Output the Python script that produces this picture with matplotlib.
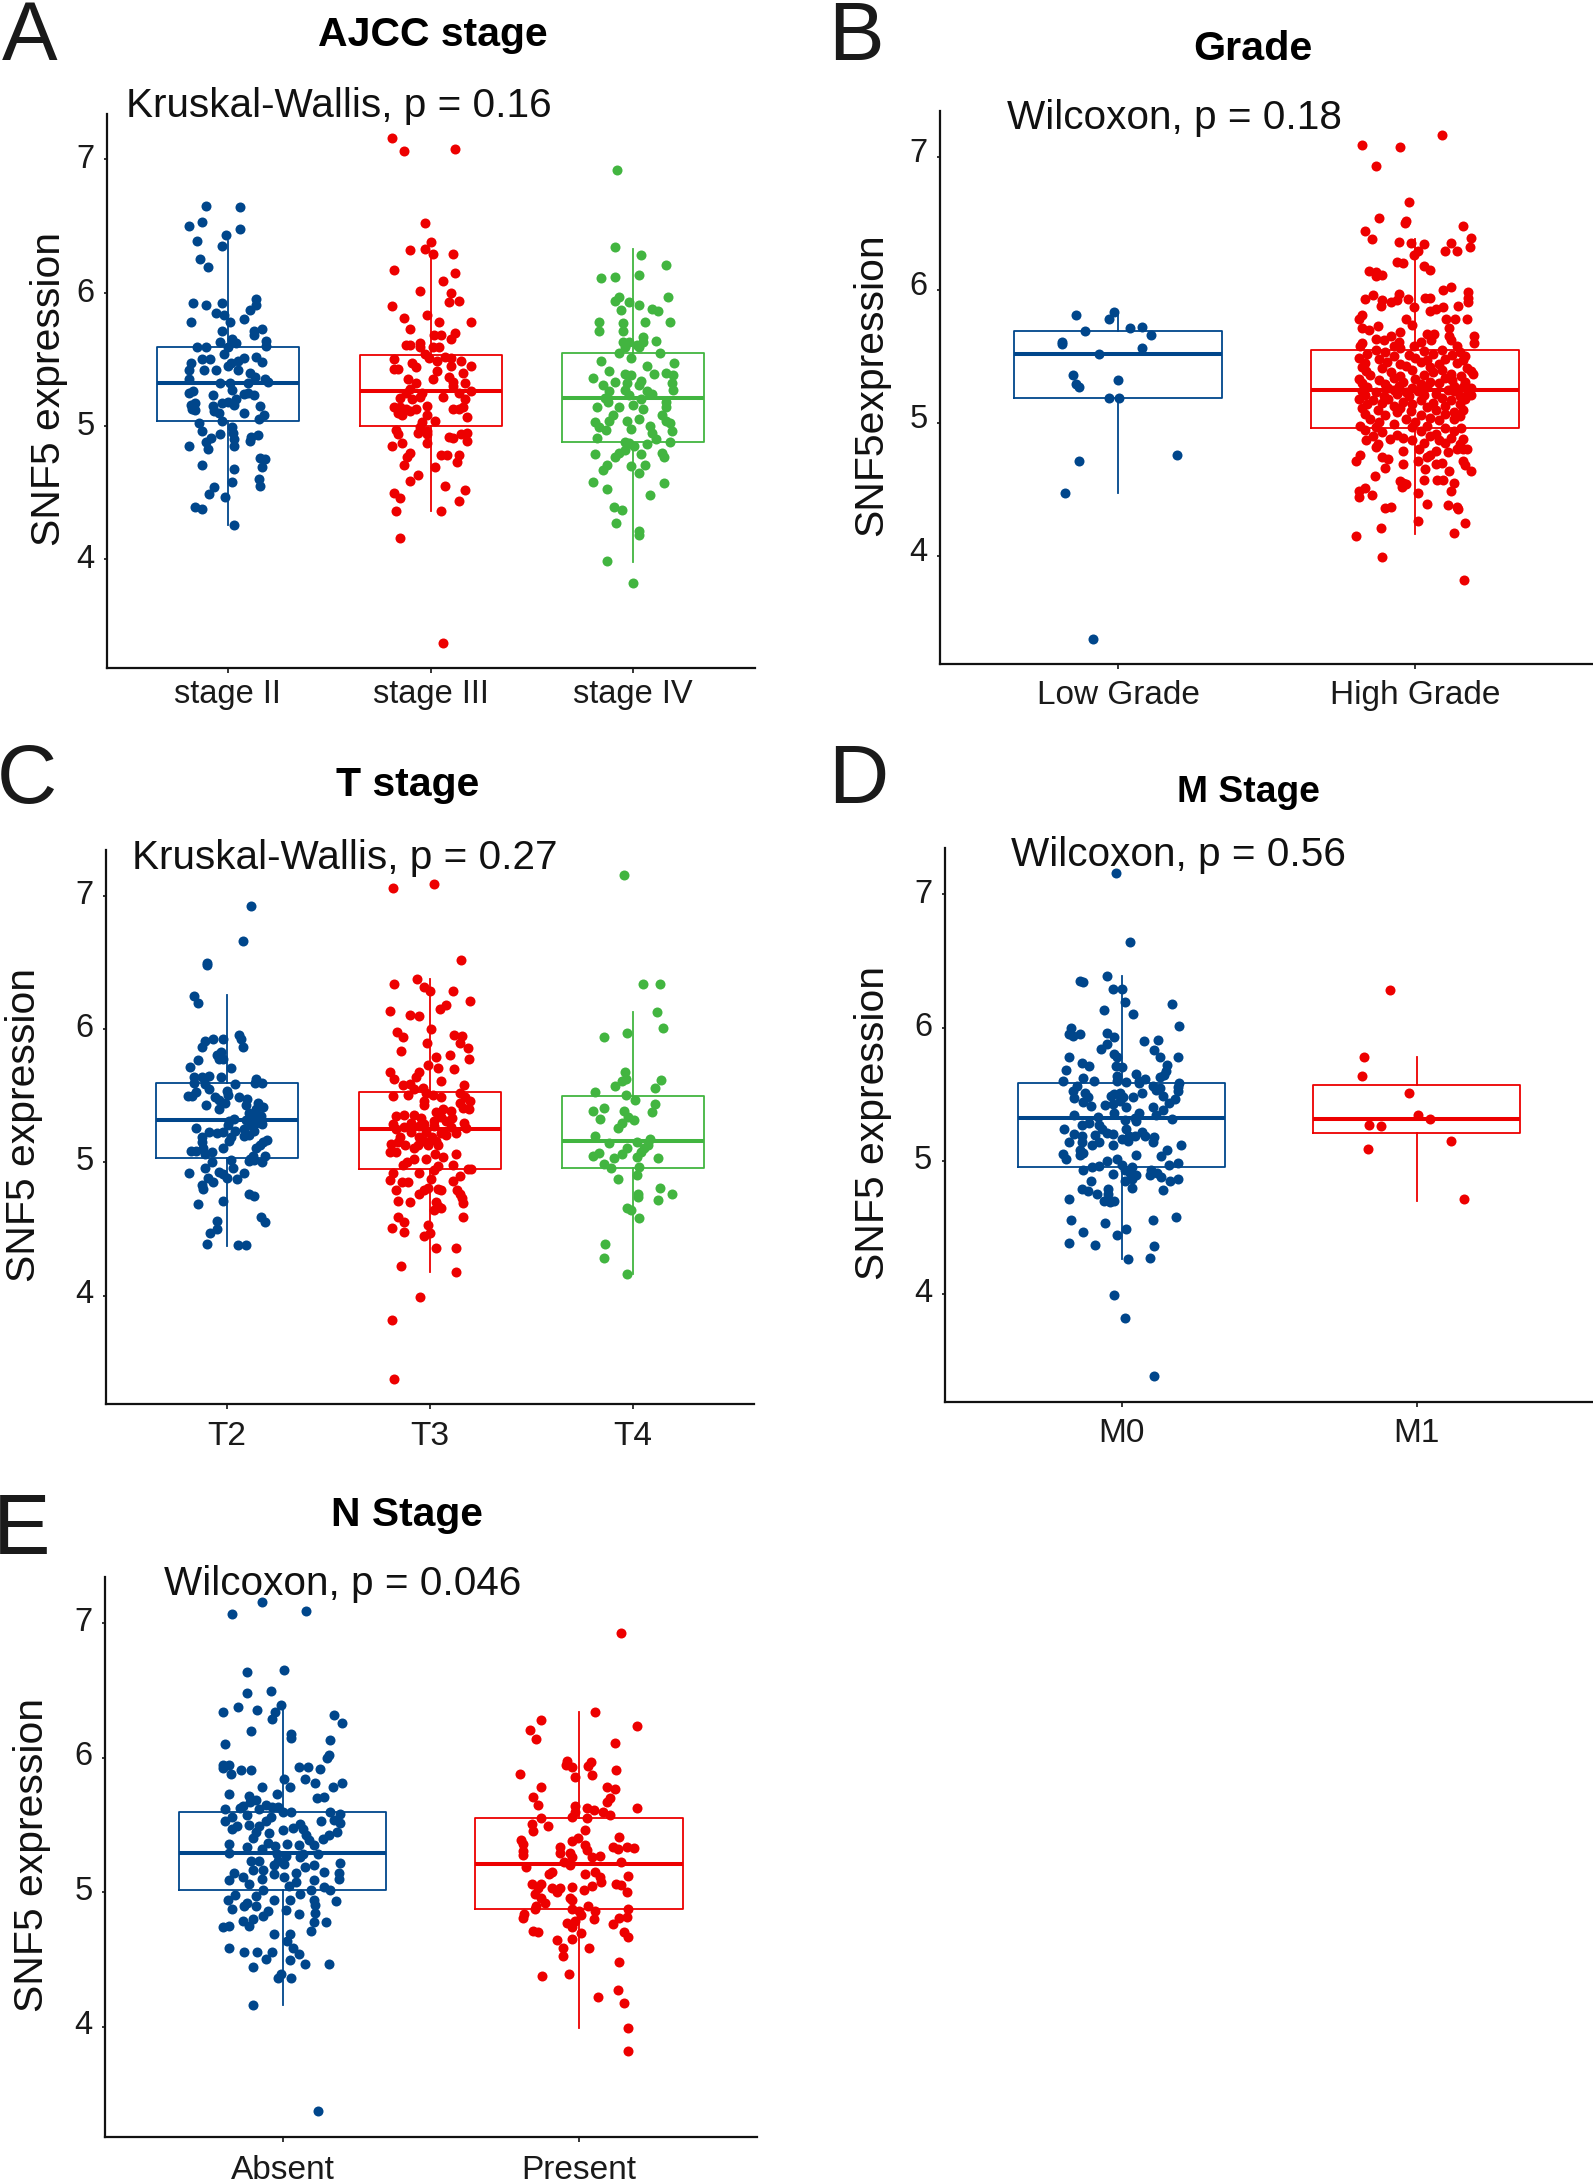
import matplotlib
matplotlib.use("Agg")
import matplotlib.pyplot as plt
from matplotlib.transforms import ScaledTranslation

plt.rcParams['font.family'] = ['Liberation Sans', 'DejaVu Sans']

W, H = 1593, 2184
BLUE, RED, GREEN = '#00468B', '#ED0000', '#42B540'

# Each point: (horizontal jitter in category units, SNF5 expression)
a_stage2 = [(-.11,6.65),(.06,6.64),(-.19,6.50),(-.13,6.53),(.06,6.48),(-.01,6.43),(-.15,6.39),(-.03,6.35),(-.14,6.25),(-.10,6.19),(.14,5.95),(.14,5.91),(.11,5.87),(-.17,5.92),(-.11,5.91),(-.03,5.92),(-.06,5.85),(-.02,5.83),(.08,5.80),(.01,5.78),(-.18,5.78),(-.03,5.71),(.13,5.71),(.17,5.73),(.13,5.68),(.19,5.64),(.19,5.60),(-.15,5.59),(-.11,5.59),(-.04,5.63),(.02,5.65),(.04,5.62),(0,5.59),(-.02,5.54),(-.18,5.47),(-.19,5.42),(-.13,5.50),(-.09,5.50),(-.12,5.42),(-.06,5.42),(0,5.45),(.015,5.47),(.05,5.49),(.08,5.51),(.14,5.52),(.17,5.48),(.11,5.40),(.05,5.42),(.135,5.37),(.185,5.35),(.2,5.33),(-.19,5.35),(-.04,5.32),(.01,5.32),(.1,5.32),(.02,5.27),(-.19,5.25),(-.17,5.26),(-.075,5.23),(.08,5.24),(.13,5.23),(.10,5.245),(.04,5.20),(0,5.18),(-.03,5.17),(-.075,5.15),(-.18,5.16),(-.16,5.17),(.16,5.15),(-.175,5.13),(-.16,5.12),(-.07,5.11),(-.045,5.10),(.08,5.10),(.03,5.16),(.18,5.08),(.155,5.05),(-.03,5.04),(-.145,5.02),(.02,4.99),(.025,4.95),(-.13,4.96),(-.04,4.94),(.15,4.93),(.115,4.92),(.11,4.89),(-.085,4.91),(-.11,4.88),(.03,4.90),(-.19,4.85),(-.10,4.83),(.03,4.85),(.16,4.76),(.185,4.75),(.17,4.69),(-.13,4.71),(.03,4.68),(.155,4.60),(.02,4.58),(.16,4.55),(-.07,4.54),(-.095,4.49),(-.015,4.47),(-.16,4.39),(-.13,4.38),(.03,4.26)]
a_stage3 = [(-.19,7.16),(-.13,7.06),(.12,7.08),(-.03,6.52),(0,6.38),(-.03,6.33),(-.10,6.32),(.01,6.29),(.11,6.29),(-.18,6.17),(.12,6.15),(.06,6.09),(-.05,6.01),(.10,6.0),(.09,5.93),(.14,5.94),(-.19,5.9),(-.02,5.83),(-.13,5.81),(.2,5.78),(.04,5.78),(-.10,5.73),(.015,5.68),(.05,5.68),(.12,5.70),(.10,5.65),(-.05,5.62),(-.12,5.61),(-.10,5.61),(.01,5.59),(.04,5.59),(-.05,5.59),(-.03,5.54),(-.01,5.51),(.07,5.52),(.10,5.51),(-.18,5.50),(-.09,5.47),(.03,5.49),(.15,5.49),(.2,5.45),(.10,5.45),(-.18,5.43),(-.16,5.43),(-.07,5.44),(.03,5.41),(.16,5.40),(.01,5.35),(.09,5.37),(-.11,5.35),(-.07,5.32),(.11,5.33),(.17,5.32),(.11,5.30),(.2,5.26),(-.1,5.28),(-.12,5.25),(-.04,5.25),(.06,5.22),(.14,5.25),(-.15,5.21),(-.09,5.20),(-.05,5.22),(.17,5.20),(-.18,5.14),(-.15,5.14),(-.12,5.13),(-.02,5.15),(.16,5.14),(.11,5.13),(-.16,5.10),(-.10,5.11),(-.07,5.13),(.14,5.13),(-.14,5.08),(-.02,5.08),(.18,5.07),(.02,5.04),(-.04,5.03),(-.05,4.99),(-.02,4.96),(-.17,4.97),(-.16,4.94),(-.06,4.95),(-.02,4.94),(.09,4.92),(.11,4.91),(.15,4.94),(.18,4.95),(.18,4.89),(-.02,4.87),(-.19,4.85),(-.14,4.87),(-.10,4.80),(-.115,4.77),(-.13,4.71),(.05,4.78),(.08,4.78),(.14,4.78),(.13,4.73),(.02,4.69),(-.06,4.63),(-.10,4.59),(.07,4.55),(.17,4.52),(-.18,4.50),(-.15,4.46),(.14,4.44),(-.17,4.36),(.05,4.36),(-.15,4.16),(.06,3.37)]
a_stage4 = [(-.08,6.92),(-.09,6.34),(.04,6.28),(.16,6.21),(-.16,6.11),(-.09,6.12),(.03,6.13),(.17,5.97),(-.07,5.97),(-.09,5.94),(-.02,5.93),(.03,5.91),(-.06,5.87),(.09,5.88),(.12,5.86),(-.17,5.78),(-.05,5.77),(.06,5.78),(.18,5.78),(-.17,5.71),(-.05,5.71),(.05,5.67),(.11,5.64),(-.05,5.63),(-.02,5.63),(.02,5.61),(.05,5.63),(-.04,5.59),(.03,5.59),(-.07,5.55),(.13,5.55),(-.01,5.51),(-.16,5.49),(.2,5.47),(.07,5.45),(-.12,5.41),(.16,5.40),(.10,5.39),(-.2,5.36),(-.04,5.39),(-.01,5.38),(.195,5.38),(-.09,5.33),(.04,5.34),(.19,5.32),(-.15,5.31),(-.03,5.32),(.03,5.31),(.195,5.27),(-.12,5.26),(-.04,5.27),(.07,5.26),(.09,5.24),(-.02,5.23),(-.14,5.21),(-.125,5.18),(.04,5.20),(.16,5.18),(-.07,5.14),(0,5.155),(.05,5.13),(.16,5.145),(-.18,5.14),(.14,5.08),(-.1,5.08),(-.12,5.04),(-.03,5.04),(.03,5.05),(-.19,5.03),(.16,5.04),(.18,5.02),(-.17,4.99),(-.135,4.97),(-.01,4.98),(.08,5.0),(.19,4.965),(.09,4.95),(-.18,4.91),(.11,4.90),(.18,4.88),(-.04,4.88),(-.02,4.87),(.005,4.85),(.07,4.865),(-.04,4.82),(-.07,4.80),(.04,4.79),(.14,4.80),(.15,4.77),(-.19,4.79),(-.09,4.77),(-.13,4.71),(-.15,4.67),(-.01,4.70),(.06,4.71),(.03,4.645),(-.2,4.58),(.15,4.575),(-.13,4.53),(.08,4.48),(-.095,4.39),(-.055,4.37),(-.085,4.27),(.03,4.21),(.03,4.18),(-.13,3.99),(0,3.82)]

b_low = [(-.14,5.81),(-.015,5.83),(-.03,5.78),(.04,5.71),(.08,5.72),(-.11,5.69),(.11,5.66),(-.19,5.61),(-.19,5.59),(.08,5.56),(-.065,5.52),(-.15,5.36),(0,5.32),(-.14,5.29),(-.13,5.27),(-.03,5.19),(.005,5.19),(.2,4.755),(-.13,4.71),(-.18,4.47),(-.085,3.38)]
b_high = [(.09,7.16),(-.18,7.09),(-.05,7.07),(-.13,6.93),(-.02,6.66),(-.12,6.54),(-.03,6.52),(-.035,6.5),(.16,6.48),(-.17,6.44),(.19,6.39),(-.145,6.38),(-.055,6.36),(-.015,6.35),(.03,6.34),(.12,6.35),(.185,6.32),(.1,6.29),(.14,6.29),(.01,6.29),(-.005,6.26),(-.06,6.21),(-.04,6.2),(.03,6.18),(.05,6.15),(-.155,6.14),(-.13,6.13),(-.11,6.11),(-.13,6.1),(.095,6.0),(.12,6.02),(.18,5.98),(.18,5.94),(-.055,5.97),(-.14,5.96),(-.17,5.93),(-.11,5.92),(-.08,5.91),(-.06,5.92),(-.025,5.93),(.035,5.94),(.05,5.94),(.18,5.91),(-.115,5.88),(-.005,5.87),(.145,5.88),(.095,5.87),(.07,5.855),(.05,5.84),(-.18,5.81),(-.19,5.78),(-.03,5.78),(.105,5.78),(.135,5.78),(.175,5.78),(-.125,5.73),(-.01,5.735),(-.18,5.71),(-.155,5.7),(.115,5.71),(-.05,5.68),(.04,5.67),(.065,5.67),(.2,5.655),(-.08,5.65),(.115,5.65),(-.13,5.63),(-.105,5.62),(.055,5.62),(.12,5.62),(-.18,5.6),(.2,5.6),(-.055,5.61),(.02,5.61),(-.185,5.58),(.14,5.58),(-.07,5.58),(-.005,5.58),
(-.13,5.55),(-.05,5.56),(.03,5.54),(.09,5.55),(.15,5.53),(-.16,5.52),(-.1,5.53),(-.02,5.51),(.06,5.52),(.125,5.51),(.17,5.50),(-.19,5.49),(-.12,5.48),(-.07,5.50),(.0,5.49),(.04,5.47),(.1,5.48),(.16,5.47),(-.17,5.45),(-.095,5.46),(-.05,5.44),(.02,5.46),(.08,5.44),(.14,5.45),(-.18,5.42),(-.11,5.41),(-.03,5.43),(.05,5.42),(.09,5.40),(.175,5.41),(-.165,5.39),(-.08,5.38),(-.01,5.40),(.06,5.38),(.12,5.37),(.19,5.39),(-.15,5.36),(-.05,5.35),(.03,5.36),(.1,5.34),(.155,5.35),(.195,5.37),(-.19,5.33),(-.12,5.32),(-.07,5.34),(0,5.33),(.05,5.31),(.125,5.32),(.17,5.31),(-.18,5.30),(-.1,5.29),(-.04,5.31),(.02,5.29),(.08,5.30),(.13,5.28),(.16,5.27),(-.16,5.27),(-.09,5.26),(-.055,5.28),(-.01,5.26),(.04,5.27),(.11,5.25),(.19,5.26),(-.18,5.24),(-.13,5.23),(-.07,5.25),(-.03,5.23),(.01,5.24),(.07,5.22),(.13,5.24),(.18,5.23),(-.17,5.21),(-.105,5.2),(-.06,5.22),(-.02,5.2),(.03,5.21),(.09,5.19),(.15,5.2),(.19,5.21),(-.19,5.18),(-.14,5.17),(-.09,5.18),(-.04,5.16),(.02,5.17),(.06,5.15),(.12,5.17),(.17,5.18),(-.16,5.14),(-.11,5.15),(-.07,5.13),(-.01,5.14),(.04,5.12),(.1,5.13),(.15,5.14),(-.18,5.11),(-.125,5.1),(-.05,5.11),(-.015,5.09),(.07,5.1),(.13,5.08),(.16,5.1),(-.17,5.07),(-.1,5.06),(-.06,5.08),(.02,5.06),(.05,5.04),(.1,5.07),(.15,5.05),(-.15,5.03),(-.12,5.01),(-.03,5.03),(.0,5.01),(.08,5.02),(.13,5.03),(-.185,4.98),(-.13,4.97),(-.07,4.99),(-.01,4.97),(.04,4.98),(.1,4.96),(.155,4.96),(-.17,4.95),(-.11,4.93),(-.06,4.91),(.02,4.94),(.07,4.92),(.13,4.94),(-.14,4.9),(-.04,4.89),(-.01,4.87),(.05,4.9),(.08,4.87),(.12,4.89),(.16,4.88),(-.165,4.87),(-.125,4.84),(-.085,4.88),(.03,4.85),(.1,4.85),(.15,4.84),(.175,4.8),(-.13,4.82),(-.04,4.79),(.015,4.8),(.05,4.76),(.07,4.79),(.11,4.78),(.14,4.8),(.16,4.8),(-.185,4.76),(-.2,4.71),(-.11,4.74),(-.09,4.73),(-.04,4.69),(.01,4.71),(.04,4.74),(.07,4.69),(.09,4.7),(.16,4.71),(.19,4.64),(.17,4.68),(-.1,4.66),(.035,4.65),(.115,4.64),(-.135,4.6),(.03,4.57),(.075,4.57),(.095,4.57),(.13,4.55),(-.04,4.55),(-.05,4.56),(-.03,4.54),(-.045,4.52),(-.19,4.49),(-.17,4.51),(.12,4.49),(.01,4.47),(-.145,4.46),(-.19,4.44),(.04,4.39),(-.1,4.36),(-.08,4.37),(.11,4.38),(.14,4.37),(.145,4.35),(.01,4.26),(.17,4.25),(-.115,4.21),(-.2,4.15),(.13,4.17),(-.11,3.99),(.165,3.82)]

c_t2 = [(.12,6.93),(.08,6.66),(-.10,6.5),(-.10,6.48),(-.16,6.25),(-.14,6.2),(.06,5.96),(.07,5.93),(-.02,5.93),(-.07,5.93),(-.11,5.91),(-.125,5.87),(.08,5.87),(-.03,5.83),(-.05,5.81),(-.04,5.78),(-.02,5.78),(-.14,5.77),(-.18,5.72),(.02,5.71),(-.16,5.64),(-.125,5.64),(-.09,5.65),(-.03,5.645),(-.16,5.6),(-.11,5.59),(.04,5.59),(.145,5.63),(.14,5.6),(.175,5.6),(-.09,5.55),(-.15,5.53),(0,5.54),(-.19,5.5),(-.17,5.5),(-.06,5.49),(-.04,5.47),(.005,5.51),(.06,5.49),(.1,5.48),(-.01,5.45),(-.04,5.40),(-.105,5.43),(.095,5.43),(.155,5.445),(.18,5.42),(.145,5.4),(.11,5.37),(.135,5.35),(.17,5.35),(.095,5.32),(.035,5.325),(.01,5.31),(.145,5.3),(.175,5.29),(-.15,5.26),(.005,5.28),(.12,5.28),(.085,5.255),(-.09,5.23),(-.05,5.225),(-.02,5.23),(.04,5.24),(.135,5.24),(-.125,5.19),(.02,5.19),(.085,5.2),(.11,5.21),(.2,5.17),(-.125,5.155),(.18,5.15),(.01,5.16),(.165,5.13),(-.12,5.11),(-.02,5.11),(.145,5.11),(-.175,5.085),(-.15,5.085),(-.075,5.08),(-.11,5.06),(.19,5.05),(.13,5.05),(.115,5.025),(.02,5.02),(-.075,5.0),(.11,5.01),(.135,5.015),(.175,5.0),(.03,4.955),(-.11,4.955),(-.185,4.92),(-.04,4.93),(.085,4.92),(-.02,4.91),(0,4.885),(.05,4.875),(-.095,4.885),(-.07,4.85),(-.125,4.83),(-.12,4.8),(.11,4.765),(.135,4.75),(-.02,4.71),(-.14,4.69),(.17,4.59),(.19,4.55),(-.05,4.56),(-.05,4.5),(-.085,4.47),(-.10,4.39),(.055,4.38),(.095,4.38)]
c_t3 = [(-.18,7.06),(.02,7.09),(.155,6.52),(-.065,6.38),(-.175,6.34),(-.03,6.32),(0,6.29),(.115,6.29),(.2,6.21),(.08,6.18),(.05,6.155),(-.195,6.14),(-.1,6.11),(-.055,6.1),(.005,6.0),(-.16,5.98),(-.13,5.94),(.12,5.955),(.16,5.95),(-.015,5.9),(.15,5.9),(.19,5.86),(-.14,5.84),(.1,5.81),(.03,5.79),(.195,5.78),(-.01,5.73),(.04,5.71),(.12,5.7),(-.195,5.68),(-.055,5.68),(-.07,5.645),(-.175,5.63),(.055,5.61),(-.1,5.59),(-.13,5.58),(.17,5.585),(-.035,5.56),(-.08,5.55),(-.02,5.52),(.15,5.525),(-.18,5.5),(-.105,5.51),(.015,5.51),(.055,5.49),(.175,5.49),(-.03,5.46),(.2,5.46),(.15,5.45),(-.03,5.43),(.165,5.41),(.195,5.4),(.065,5.4),(.105,5.385),(.03,5.38),(-.165,5.35),(-.125,5.36),(-.08,5.36),(-.045,5.335),(.055,5.34),(.11,5.335),(.02,5.315),(.08,5.31),(-.18,5.29),(-.095,5.3),(-.03,5.29),(.17,5.3),(-.125,5.265),(-.055,5.275),(.02,5.275),(.105,5.265),(.18,5.26),(-.165,5.25),(-.02,5.23),(-.095,5.23),(.055,5.22),(.13,5.22),(-.145,5.195),(-.055,5.195),(.01,5.195),(.08,5.205),(-.03,5.16),(.03,5.16),(-.155,5.15),(-.19,5.14),(-.12,5.13),(-.06,5.13),(-.01,5.13),(.04,5.13),(-.195,5.08),(-.165,5.08),(-.08,5.105),(.13,5.065),(.025,5.06),(-.02,5.025),(-.08,5.025),(-.11,5.005),(.065,5.04),(-.13,4.98),(.115,4.98),(.04,4.97),(.02,4.945),(.19,4.95),(.205,4.95),(-.18,4.92),(-.055,4.92),(.15,4.9),(-.195,4.87),(-.135,4.85),(-.105,4.85),(.005,4.875),(.115,4.86),(-.165,4.79),(-.01,4.81),(.04,4.8),(-.03,4.79),(.055,4.79),(.135,4.79),(-.055,4.765),(.15,4.765),(.16,4.73),(.165,4.695),(-.155,4.71),(-.1,4.7),(.03,4.705),(.04,4.67),(.02,4.645),(.055,4.66),(-.155,4.59),(-.125,4.555),(.165,4.59),(-.01,4.53),(-.185,4.51),(-.125,4.48),(-.03,4.445),(0,4.47),(.03,4.36),(.13,4.36),(-.14,4.22),(.13,4.18),(-.05,3.99),(-.185,3.82),(-.175,3.375)]
c_t4 = [(-.045,7.16),(.05,6.34),(.135,6.34),(.12,6.13),(.15,6.01),(-.03,5.97),(-.14,5.94),(-.04,5.68),(-.035,5.63),(.14,5.62),(-.055,5.61),(-.085,5.575),(.11,5.56),(-.185,5.53),(-.035,5.51),(.01,5.47),(.11,5.44),(-.14,5.41),(-.195,5.39),(-.045,5.39),(.095,5.38),(-.025,5.345),(-.16,5.325),(.005,5.32),(-.055,5.3),(-.07,5.26),(-.185,5.2),(.085,5.18),(.02,5.15),(-.115,5.145),(.075,5.13),(-.03,5.105),(.055,5.105),(.04,5.075),(-.165,5.07),(-.195,5.05),(-.055,5.06),(-.09,5.035),(.02,5.04),(.125,5.03),(-.14,4.985),(-.105,4.955),(.03,4.965),(.02,4.905),(-.07,4.875),(.135,4.805),(.195,4.765),(.025,4.765),(.025,4.74),(.125,4.72),(-.03,4.655),(-.01,4.64),(.03,4.58),(-.135,4.39),(-.14,4.28),(-.03,4.16)]

d_m0 = [(-.02,7.16),(.03,6.64),(-.05,6.39),(-.14,6.35),(-.13,6.34),(-.03,6.29),(0,6.29),(.17,6.18),(.01,6.19),(-.06,6.13),(.04,6.1),(.195,6.01),(-.17,6.0),(-.18,5.95),(-.165,5.94),(-.14,5.95),(-.05,5.96),(-.025,5.93),(.075,5.9),(.125,5.91),(-.05,5.875),(-.07,5.84),(.11,5.83),(-.025,5.8),(-.015,5.775),(-.18,5.78),(.13,5.78),(.19,5.78),(-.135,5.73),(-.11,5.71),(.155,5.72),(-.02,5.71),(0,5.7),(-.19,5.68),(.15,5.67),(.145,5.64),(.05,5.65),(-.015,5.635),(-.13,5.62),(.13,5.625),(.08,5.615),(.06,5.6),(-.2,5.6),(-.095,5.6),(-.015,5.595),(.015,5.59),(.06,5.58),(.195,5.58),(-.15,5.56),(.105,5.56),(.13,5.545),(.19,5.55),(-.165,5.52),(.07,5.51),(.115,5.53),(-.125,5.51),(.19,5.525),(-.025,5.5),(-.005,5.51),(-.115,5.48),(-.16,5.47),(.04,5.48),(.14,5.485),(-.035,5.485),(.005,5.475),(.18,5.465),(.16,5.435),(-.13,5.44),(-.005,5.45),(.105,5.405),(-.055,5.42),(-.03,5.425),(-.105,5.41),(.015,5.4),(.14,5.38),(-.025,5.36),(.06,5.355),(-.16,5.345),(.115,5.345),(-.08,5.33),(.045,5.32),(.17,5.315),(.01,5.305),(.05,5.295),(-.11,5.285),(-.135,5.27),(-.075,5.27),(-.195,5.24),(-.065,5.235),(.015,5.235),(-.16,5.2),(-.05,5.205),(.07,5.215),(-.09,5.19),(-.03,5.2),(-.135,5.185),(.025,5.185),(.045,5.185),(.11,5.175),(0,5.165),(.08,5.185),(-.18,5.14),(-.135,5.14),(-.075,5.14),(.02,5.15),(.105,5.14),(-.03,5.115),(-.1,5.115),(.2,5.12),(-.14,5.08),(-.13,5.06),(.155,5.08),(-.2,5.05),(.05,5.045),(-.14,5.045),(.135,5.035),(-.19,5.015),(-.015,5.015),(-.05,5.0),(.19,4.985),(0,4.97),(-.075,4.96),(.16,4.965),(-.1,4.95),(.035,4.95),(-.13,4.93),(.01,4.93),(.1,4.93),(-.03,4.9),(.03,4.91),(.12,4.91),(.095,4.895),(.05,4.89),(.01,4.85),(.135,4.875),(.19,4.865),(.165,4.85),(.035,4.86),(-.105,4.845),(.035,4.795),(-.045,4.785),(-.135,4.785),(-.115,4.77),(.14,4.78),(-.085,4.75),(-.045,4.75),(-.18,4.71),(-.06,4.7),(-.04,4.69),(-.025,4.695),(-.17,4.555),(.185,4.58),(.105,4.555),(-.055,4.53),(.015,4.49),(-.13,4.465),(-.015,4.44),(-.18,4.38),(-.09,4.37),(.11,4.36),(.095,4.27),(.02,4.26),(-.025,3.99),(.01,3.82),(.11,3.38)]
d_m1 = [(-.09,6.28),(-.18,5.78),(-.185,5.635),(-.025,5.51),(.005,5.34),(.045,5.31),(-.16,5.27),(-.12,5.26),(.115,5.15),(-.165,5.085),(.16,4.71)]

e_absent = [(-.07,7.16),(-.17,7.07),(.08,7.09),(-.12,6.64),(.005,6.655),(-.04,6.5),(-.12,6.48),(-.005,6.39),(-.15,6.38),(-.2,6.34),(-.085,6.355),(-.025,6.34),(-.035,6.29),(.175,6.32),(.2,6.26),(-.105,6.2),(.03,6.18),(.03,6.15),(.16,6.13),(-.195,6.1),(.155,6.02),(.15,6.0),(-.2,5.945),(-.18,5.95),(-.2,5.925),(.055,5.93),(.085,5.935),(.125,5.915),(-.14,5.91),(-.105,5.91),(-.175,5.88),(.005,5.84),(.075,5.84),(.2,5.81),(.11,5.81),(.025,5.78),(-.07,5.78),(.17,5.785),(-.18,5.73),(-.02,5.73),(-.115,5.72),(.14,5.71),(.115,5.705),(-.09,5.685),(-.11,5.67),(-.135,5.645),(-.055,5.65),(-.015,5.635),(-.145,5.625),(-.035,5.635),(-.195,5.62),(-.08,5.62),(.16,5.595),(.195,5.585),(.03,5.595),(0,5.595),(-.12,5.575),(-.04,5.56),(-.17,5.56),(-.055,5.53),(-.195,5.53),(.13,5.53),(.175,5.54),(.195,5.515),(.06,5.51),(-.155,5.49),(-.115,5.5),(-.08,5.49),(.035,5.48),(-.17,5.47),(0,5.465),(.07,5.47),(-.09,5.445),(-.045,5.44),(.185,5.445),(.155,5.43),(.08,5.425),(.135,5.4),(-.1,5.405),(.09,5.39),(-.05,5.37),(-.18,5.36),(.015,5.36),(.055,5.355),(.105,5.355),(-.025,5.345),(-.12,5.34),(-.07,5.32),(-.18,5.295),(-.02,5.285),(.07,5.285),(.12,5.285),(.01,5.27),(-.105,5.235),(-.08,5.235),(.06,5.26),(-.015,5.23),(.195,5.22),(.005,5.21),(-.03,5.2),(.075,5.185),(.105,5.2),(-.1,5.165),(-.065,5.165),(-.165,5.145),(.045,5.145),(.14,5.155),(.19,5.145),(-.03,5.135),(.005,5.115),(-.135,5.115),(-.07,5.1),(-.18,5.09),(.105,5.09),(.19,5.1),(-.115,5.065),(.045,5.075),(.02,5.05),(.14,5.04),(.16,5.02),(-.065,5.015),(.095,5.02),(.06,4.99),(-.16,4.98),(-.09,4.97),(.025,4.945),(-.185,4.94),(-.03,4.945),(.18,4.935),(.105,4.945),(-.12,4.92),(-.13,4.895),(-.09,4.895),(.11,4.905),(-.17,4.88),(.01,4.87),(-.05,4.86),(.055,4.84),(.11,4.85),(-.065,4.825),(-.1,4.8),(-.135,4.785),(.105,4.78),(.145,4.78),(-.115,4.75),(-.18,4.75),(-.2,4.74),(.095,4.715),(-.03,4.69),(.025,4.69),(.015,4.64),(.035,4.59),(-.18,4.59),(.055,4.545),(-.13,4.555),(-.085,4.56),(-.035,4.555),(-.055,4.505),(.025,4.495),(.075,4.47),(.155,4.465),(-.1,4.445),(-.005,4.39),(-.015,4.36),(.03,4.36),(-.1,4.16),(.12,3.375)]
e_present = [(.14,6.925),(.055,6.34),(-.13,6.28),(.195,6.24),(-.165,6.21),(-.145,6.14),(.12,6.11),(-.04,5.975),(.04,5.97),(-.045,5.95),(.03,5.94),(-.025,5.935),(.125,5.91),(-.2,5.88),(.045,5.87),(-.015,5.86),(.095,5.785),(.12,5.77),(-.13,5.78),(-.155,5.71),(.105,5.705),(.095,5.67),(-.14,5.65),(.195,5.63),(-.015,5.64),(.025,5.63),(.05,5.61),(.08,5.6),(-.015,5.6),(.105,5.575),(-.025,5.56),(.025,5.555),(-.13,5.555),(-.16,5.51),(-.105,5.495),(-.155,5.455),(.02,5.465),(.135,5.41),(-.005,5.405),(-.195,5.39),(-.025,5.38),(-.19,5.36),(-.065,5.34),(.02,5.35),(.115,5.34),(.16,5.335),(.185,5.33),(.13,5.32),(-.19,5.305),(-.065,5.295),(.025,5.315),(-.19,5.28),(-.03,5.295),(.07,5.27),(.045,5.26),(-.025,5.26),(-.05,5.225),(.14,5.225),(-.18,5.185),(-.03,5.2),(-.09,5.15),(-.1,5.14),(.02,5.14),(.055,5.155),(.165,5.125),(.07,5.115),(.075,5.08),(-.16,5.06),(-.13,5.06),(.125,5.065),(.14,5.055),(.045,5.05),(-.025,5.04),(-.09,5.03),(-.14,5.03),(-.065,5.03),(.015,5.015),(-.075,5.0),(-.15,4.985),(.16,5.0),(-.13,4.96),(-.03,4.96),(-.025,4.94),(-.115,4.92),(-.145,4.9),(.03,4.9),(-.025,4.875),(0,4.865),(.165,4.88),(-.15,4.875),(.055,4.86),(.005,4.835),(-.185,4.84),(-.19,4.81),(.135,4.81),(.16,4.815),(.05,4.8),(-.015,4.79),(-.04,4.775),(.115,4.765),(-.025,4.745),(-.155,4.71),(-.14,4.705),(.005,4.695),(.15,4.705),(.165,4.67),(-.025,4.655),(-.075,4.645),(-.055,4.585),(.035,4.585),(-.055,4.53),(.135,4.48),(-.035,4.39),(-.125,4.375),(.13,4.275),(.065,4.22),(.15,4.18),(.165,3.99),(.165,3.82)]

# Box statistics: (lower whisker, q1, median, q3, upper whisker)
a_boxes = [(4.26,5.04,5.32,5.59,6.39),(4.36,5.00,5.26,5.53,6.28),(3.98,4.88,5.21,5.55,6.33)]
b_boxes = [(4.47,5.19,5.52,5.69,5.83),(4.165,4.965,5.25,5.55,6.38)]
c_boxes = [(4.375,5.03,5.32,5.60,6.255),(4.18,4.95,5.255,5.53,6.38),(4.16,4.96,5.16,5.50,6.13)]
d_boxes = [(4.26,4.955,5.32,5.58,6.39),(4.70,5.21,5.31,5.57,5.78)]
e_boxes = [(4.16,5.02,5.29,5.595,6.37),(3.99,4.88,5.21,5.555,6.34)]

a_labels = ['stage II', 'stage III', 'stage IV']
b_labels = ['Low Grade', 'High Grade']
c_labels = ['T2', 'T3', 'T4']
d_labels = ['M0', 'M1']
e_labels = ['Absent', 'Present']
y_ticks = [4, 5, 6, 7]

fig = plt.figure(figsize=(W / 100, H / 100), dpi=100, facecolor='white')


def put(x, y, s, **kw):
    fig.text(x / W, 1 - y / H, s, **kw)


def panel(letter, lx, ly, lsize, title, tx, ty, tsize, note, nx, ny, ylabel, ylx, yly,
          left, right, top, bottom, y7, y4, cat1, dcat, labels, groups, boxes, colors,
          xsize, xpad, yshift):
    ax = fig.add_axes([left / W, 1 - bottom / H, (right - left) / W, (bottom - top) / H])
    ax.patch.set_alpha(0)
    ppu = (y4 - y7) / 3
    ax.set_ylim(4 - (bottom - y4) / ppu, 7 + (y7 - top) / ppu)
    ax.set_xlim(1 - (cat1 - left) / dcat, 1 + (right - cat1) / dcat)
    for i, (pts, stat, col) in enumerate(zip(groups, boxes, colors), start=1):
        ax.scatter([i + p[0] for p in pts], [p[1] for p in pts], s=52, color=col,
                   linewidths=0, zorder=2, clip_on=False)
        lo, q1, med, q3, hi = stat
        ax.bxp([dict(med=med, q1=q1, q3=q3, whislo=lo, whishi=hi, fliers=[])],
               positions=[i], widths=[0.7], showcaps=False, showfliers=False,
               manage_ticks=False, zorder=3,
               boxprops=dict(color=col, linewidth=1.3),
               whiskerprops=dict(color=col, linewidth=1.3),
               medianprops=dict(color=col, linewidth=2.9, solid_capstyle='butt'))
    for s in ('top', 'right'):
        ax.spines[s].set_visible(False)
    for s in ('left', 'bottom'):
        ax.spines[s].set_linewidth(1.6)
        ax.spines[s].set_color('#111111')
    ax.set_xticks(range(1, len(labels) + 1), labels)
    ax.set_yticks(y_ticks)
    ax.tick_params(axis='x', length=3.5, width=1.1, labelsize=xsize, pad=xpad, labelcolor='#1a1a1a')
    ax.tick_params(axis='y', length=2.5, width=1.1, labelsize=23.5, pad=6.5, labelcolor='#1a1a1a')
    offset = ScaledTranslation(0, yshift / 100, fig.dpi_scale_trans)
    for lab in ax.get_yticklabels():
        lab.set_transform(lab.get_transform() + offset)
    put(lx, ly, letter, fontsize=lsize, color='#1a1a1a', ha='left', va='baseline')
    put(tx, ty, title, fontsize=tsize, fontweight='bold', color='black', ha='center', va='baseline')
    put(nx, ny, note, fontsize=29.2, color='#111111', ha='left', va='baseline')
    put(ylx, yly, ylabel, fontsize=29.4, color='#111111', rotation=90, ha='center', va='center')


panel('A', 2, 60, 60, 'AJCC stage', 433, 46, 29.5, 'Kruskal-Wallis, p = 0.16', 126, 117,
      'SNF5 expression', 49, 389, 107, 755, 114, 667.6, 159.3, 559.2, 227.9, 202.7,
      a_labels, [a_stage2, a_stage3, a_stage4], a_boxes, [BLUE, RED, GREEN], 23.5, 5, 3)
panel('B', 828, 60, 60, 'Grade', 1253, 60, 29.7, 'Wilcoxon, p = 0.18', 1007, 128.6,
      'SNF5expression', 871, 385, 940, 1593, 110.7, 664, 156.6, 556, 1118, 297,
      b_labels, [b_low, b_high], b_boxes, [BLUE, RED], 24, 8, 7)
panel('C', -3, 803, 60, 'T stage', 408, 796, 29.5, 'Kruskal-Wallis, p = 0.27', 132, 869,
      'SNF5 expression', 24, 1125, 106, 754, 850.3, 1404, 896.2, 1295.6, 226.9, 202.9,
      c_labels, [c_t2, c_t3, c_t4], c_boxes, [BLUE, RED, GREEN], 24, 8.5, 4.5)
panel('D', 828, 803, 60, 'M Stage', 1248, 802, 26.8, 'Wilcoxon, p = 0.56', 1011, 866,
      'SNF5 expression', 873, 1123, 944.8, 1593, 848.5, 1402.2, 894.4, 1293.8, 1121.6, 295,
      d_labels, [d_m0, d_m1], d_boxes, [BLUE, RED], 24, 8, 3.7)
panel('E', -7, 1553.5, 62, 'N Stage', 407, 1526, 29.3, 'Wilcoxon, p = 0.046', 164, 1595,
      'SNF5 expression', 32, 1855, 105, 757, 1577.4, 2137, 1623.3, 2026.9, 282.6, 296.5,
      e_labels, [e_absent, e_present], e_boxes, [BLUE, RED], 24, 9.5, 4.5)

fig.savefig('out.png', dpi=100)
